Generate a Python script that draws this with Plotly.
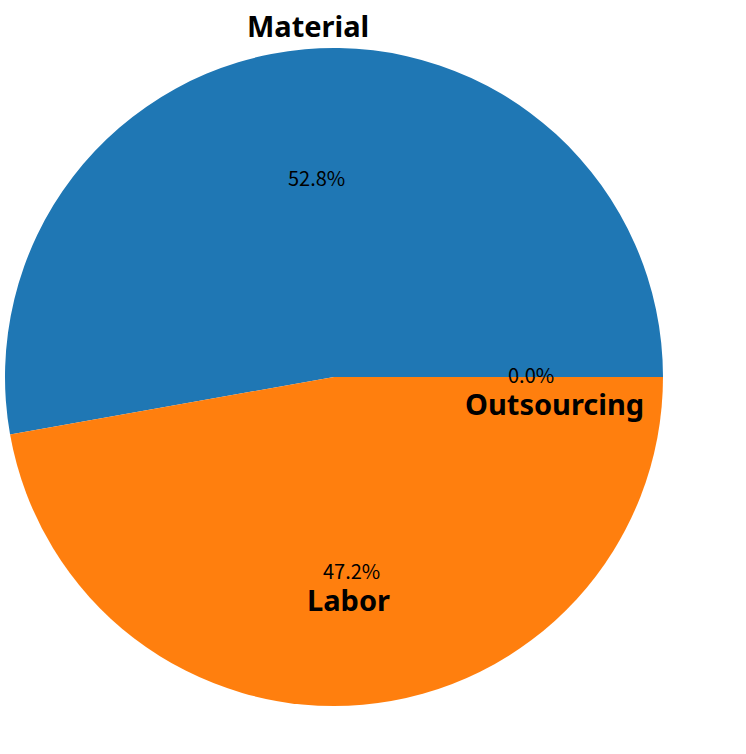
import math
import plotly.graph_objects as go

categories = ["Material", "Labor", "Outsourcing"]
values = [52.8, 47.2, 0.0]
colors = ["#1f77b4", "#ff7f0e", "#2ca02c"]

W, H = 746, 754
CX, CY, R = 334, 377, 329  # pie centre / radius in px

total = sum(values)
# plotly counterclockwise: first slice spans clockwise from `rotation`;
# we want the first slice to start at 3 o'clock going counterclockwise
rotation = 90 - 360 * values[0] / total

fig = go.Figure(go.Pie(
    labels=categories, values=values, sort=False,
    direction="counterclockwise", rotation=rotation,
    marker=dict(colors=colors, line=dict(width=0)),
    textinfo="none", hoverinfo="label+percent", showlegend=False,
    domain=dict(x=[(CX - R) / W, (CX + R) / W], y=[1 - (CY + R) / H, 1 - (CY - R) / H]),
))

# label placement style: (radius factor, xshift, yshift)
label_style = {"Material": (1.07, 5, 1), "Labor": (0.6, -3, -26), "Outsourcing": (0.6, 23, -26)}

cum = 0.0
annotations = []
for cat, v in zip(categories, values):
    frac = v / total
    mid = (cum + frac / 2) * 2 * math.pi
    cum += frac
    ca, sa = math.cos(mid), math.sin(mid)
    px = (CX + 0.6 * R * ca) / W
    py = 1 - (CY - 0.6 * R * sa) / H
    annotations.append(dict(x=px, y=py, xref="paper", yref="paper", text=f"{frac*100:.1f}%",
                            showarrow=False, xanchor="center", yanchor="middle", yshift=3,
                            font=dict(family="Noto Sans CJK SC", size=20, color="black")))
    rf, xs, ys = label_style[cat]
    lx = (CX + rf * R * ca) / W
    ly = 1 - (CY - rf * R * sa) / H
    annotations.append(dict(x=lx, y=ly, xref="paper", yref="paper", text=cat,
                            showarrow=False, xanchor="center", yanchor="middle",
                            xshift=xs, yshift=ys,
                            font=dict(family="Noto Sans", size=29, color="black", weight="bold")))

fig.update_layout(width=W, height=H, margin=dict(l=0, r=0, t=0, b=0),
                  paper_bgcolor="white", plot_bgcolor="white", annotations=annotations)

fig.write_html("out.html", config={"displayModeBar": False},
               post_script="document.body.style.margin='0px';")
